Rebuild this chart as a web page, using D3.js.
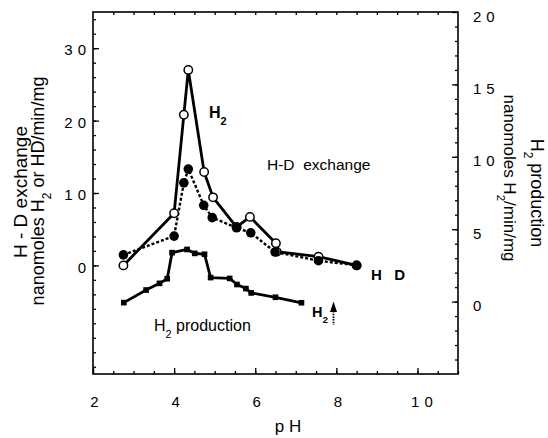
<!DOCTYPE html>
<html>
<head>
<meta charset="utf-8">
<script src="https://cdn.jsdelivr.net/npm/d3@7/dist/d3.min.js"></script>
<style>
  html, body { margin: 0; padding: 0; background: #fff; }
  svg { display: block; font-family: "Liberation Sans", Arial, Helvetica, sans-serif; }
</style>
</head>
<body>
<svg id="chart" width="548" height="438"></svg>
<script>
// pH values and H2 evolution in the H-D exchange assay (open circles, left axis)
const pHExchangeH2 = [2.75, 4.0, 4.24, 4.35, 4.74, 4.96, 5.54, 5.87, 6.51, 6.53, 7.56, 8.5];
const exchangeH2   = [0.0, 7.2, 20.8, 27.0, 12.9, 9.4, 5.3, 6.7, 3.05, 1.9, 1.2, 0.0];

// HD formation in the H-D exchange assay (filled circles, left axis)
const pHExchangeHD = [2.75, 4.0, 4.24, 4.35, 4.73, 4.94, 5.54, 5.89, 6.49, 7.56, 8.5];
const exchangeHD   = [1.45, 4.05, 11.4, 13.3, 8.3, 6.6, 5.2, 4.5, 1.85, 0.65, 0.0];

// H2 production (squares, right axis)
const pHProduction = [2.76, 3.31, 3.64, 3.83, 3.95, 4.32, 4.51, 4.75, 4.9, 5.37, 5.55, 5.77, 5.9, 6.5, 7.14];
const production   = [-0.07, 0.8, 1.26, 1.58, 3.38, 3.6, 3.33, 3.27, 1.66, 1.6, 1.18, 0.9, 0.6, 0.3, -0.08];

// tick values
const xMajorTicks = [2, 4, 6, 8, 10];
const leftMajorTicks = [0, 10, 20, 30];
const rightMajorTicks = [0, 5, 10, 15, 20];

const svg = d3.select("#chart");
const plotLeft = 93, plotRight = 458, plotTop = 12, plotBottom = 374;

const x = d3.scaleLinear().domain([2, 11]).range([plotLeft, plotRight]);
const yL = d3.scaleLinear().domain([-15, 35]).range([plotBottom, plotTop]);
const yR = d3.scaleLinear().domain([-5, 20]).range([plotBottom, plotTop]);

const ls = 5; // letter spacing for tick numerals

// ---- axes (ticks pointing inward) ----
function styleAxis(g) {
  g.select(".domain").remove();
  g.selectAll(".tick line").attr("stroke", "#000").attr("stroke-width", 1.3);
}

// bottom
svg.append("g").attr("transform", `translate(0,${plotBottom})`)
  .call(d3.axisBottom(x).tickValues(d3.range(2, 11.01, 0.5)).tickSize(-3).tickFormat(""))
  .call(styleAxis);
svg.append("g").attr("transform", `translate(0,${plotBottom})`)
  .call(d3.axisBottom(x).tickValues(xMajorTicks).tickSize(-6).tickPadding(22))
  .call(styleAxis)
  .call(g => g.selectAll("text")
    .attr("fill", "#000").attr("font-size", 15).style("letter-spacing", ls + "px")
    .attr("dx", d => d >= 10 ? ls / 2 + 4 : ls / 2 + 1));

// top
svg.append("g").attr("transform", `translate(0,${plotTop})`)
  .call(d3.axisTop(x).tickValues(d3.range(2.5, 11, 0.5)).tickSize(-3).tickFormat(""))
  .call(styleAxis);

// left
svg.append("g").attr("transform", `translate(${plotLeft},0)`)
  .call(d3.axisLeft(yL).tickValues(d3.range(-14, 35, 2)).tickSize(-3).tickFormat(""))
  .call(styleAxis);
svg.append("g").attr("transform", `translate(${plotLeft},0)`)
  .call(d3.axisLeft(yL).tickValues(leftMajorTicks).tickSize(-6).tickPadding(7))
  .call(styleAxis)
  .call(g => g.selectAll("text")
    .attr("fill", "#000").attr("font-size", 15).style("letter-spacing", ls + "px")
    .attr("dx", ls).attr("dy", "0.45em"));

// right
svg.append("g").attr("transform", `translate(${plotRight},0)`)
  .call(d3.axisRight(yR).tickValues(d3.range(-4, 20, 1)).tickSize(-3).tickFormat(""))
  .call(styleAxis);
svg.append("g").attr("transform", `translate(${plotRight},0)`)
  .call(d3.axisRight(yR).tickValues(rightMajorTicks).tickSize(-6).tickPadding(15))
  .call(styleAxis)
  .call(g => g.selectAll("text")
    .attr("fill", "#000").attr("font-size", 15).style("letter-spacing", ls + "px")
    .attr("dy", "0.6em"));

// frame
svg.append("rect")
  .attr("x", plotLeft).attr("y", plotTop)
  .attr("width", plotRight - plotLeft).attr("height", plotBottom - plotTop)
  .attr("fill", "none").attr("stroke", "#000").attr("stroke-width", 1.6);

// ---- series ----
const exH2 = pHExchangeH2.map((p, i) => [p, exchangeH2[i]]);
const exHD = pHExchangeHD.map((p, i) => [p, exchangeHD[i]]);
const prod = pHProduction.map((p, i) => [p, production[i]]);

const lineL = d3.line().x(d => x(d[0])).y(d => yL(d[1]));
const lineR = d3.line().x(d => x(d[0])).y(d => yR(d[1]));

svg.append("path").datum(exH2).attr("d", lineL)
  .attr("fill", "none").attr("stroke", "#000").attr("stroke-width", 2.8).attr("stroke-linejoin", "round");
svg.append("path").datum(exHD).attr("d", lineL)
  .attr("fill", "none").attr("stroke", "#000").attr("stroke-width", 2.4)
  .attr("stroke-dasharray", "3,2");
svg.append("path").datum(prod).attr("d", lineR)
  .attr("fill", "none").attr("stroke", "#000").attr("stroke-width", 2.8).attr("stroke-linejoin", "round");

svg.append("g").selectAll("circle").data(exH2).join("circle")
  .attr("cx", d => x(d[0])).attr("cy", d => yL(d[1])).attr("r", 4.2)
  .attr("fill", "#fff").attr("stroke", "#000").attr("stroke-width", 1.5);
svg.append("g").selectAll("circle").data(exHD).join("circle")
  .attr("cx", d => x(d[0])).attr("cy", d => yL(d[1])).attr("r", 4.8)
  .attr("fill", "#000");
svg.append("g").selectAll("path").data(prod).join("path")
  .attr("transform", d => `translate(${x(d[0])},${yR(d[1])})`)
  .attr("d", d3.symbol(d3.symbolSquare, 32))
  .attr("fill", "#000");

// ---- annotations ----
function subText(px, py, main, sub, size, weight, rest) {
  const t = svg.append("text").attr("x", px).attr("y", py)
    .attr("font-size", size).attr("font-weight", weight || "normal").attr("fill", "#000");
  t.append("tspan").text(main);
  t.append("tspan").attr("font-size", size * 0.68).attr("dy", size * 0.42).text(sub);
  if (rest) t.append("tspan").attr("dy", -size * 0.42).attr("xml:space", "preserve").text(rest);
  return t;
}

subText(209, 118, "H", "2", 16, "bold");
svg.append("text").attr("x", 267).attr("y", 170).attr("font-size", 15.5).attr("fill", "#000")
  .attr("xml:space", "preserve").text("H-D  exchange");
svg.append("text").attr("x", 371).attr("y", 280).attr("font-size", 15).attr("font-weight", "bold")
  .attr("fill", "#000").attr("xml:space", "preserve").text("H   D");
subText(312, 317, "H", "2", 14.5, "bold");
subText(154, 331, "H", "2", 16, "normal", " production");

// arrow beside H2
svg.append("line").attr("x1", 333.5).attr("x2", 333.5).attr("y1", 311).attr("y2", 325)
  .attr("stroke", "#000").attr("stroke-width", 1.8).attr("stroke-dasharray", "1.5,1.2");
svg.append("path").attr("d", "M333.5,301.5 L330,312 L337,312 Z").attr("fill", "#000");

// axis titles
svg.append("text").attr("x", 288).attr("y", 432).attr("text-anchor", "middle")
  .attr("font-size", 17).attr("fill", "#000").attr("xml:space", "preserve").text("p H");

svg.append("text").attr("transform", "translate(27,192) rotate(-90)")
  .attr("text-anchor", "middle").attr("font-size", 19).attr("fill", "#000")
  .attr("xml:space", "preserve").text("H - D exchange");
const lt2 = svg.append("text").attr("transform", "translate(44,191) rotate(-90)")
  .attr("text-anchor", "middle").attr("font-size", 18).attr("fill", "#000");
lt2.append("tspan").text("nanomoles H");
lt2.append("tspan").attr("font-size", 12).attr("dy", 7).text("2");
lt2.append("tspan").attr("dy", -7).attr("xml:space", "preserve").text(" or HD/min/mg");

const rt1 = svg.append("text").attr("transform", "translate(531,193) rotate(90)")
  .attr("text-anchor", "middle").attr("font-size", 18).attr("fill", "#000");
rt1.append("tspan").text("H");
rt1.append("tspan").attr("font-size", 12).attr("dy", 7).text("2");
rt1.append("tspan").attr("dy", -7).attr("xml:space", "preserve").text(" production");
const rt2 = svg.append("text").attr("transform", "translate(504,178) rotate(90)")
  .attr("text-anchor", "middle").attr("font-size", 17).attr("fill", "#000");
rt2.append("tspan").text("nanomoles H");
rt2.append("tspan").attr("font-size", 11.5).attr("dy", 7).text("2");
rt2.append("tspan").attr("dy", -7).text("/min/mg");
</script>
</body>
</html>
